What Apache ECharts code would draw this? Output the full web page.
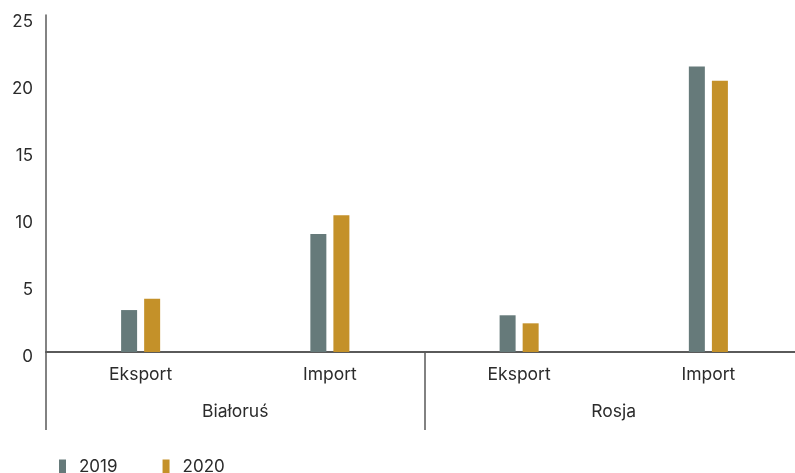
<!DOCTYPE html>
<html>
<head>
<meta charset="utf-8">
<script src="https://cdn.jsdelivr.net/npm/echarts@6/dist/echarts.min.js"></script>
<style>
  html, body { margin: 0; padding: 0; background: #fff; }
  #chart { width: 795px; height: 473px; }
</style>
</head>
<body>
<div id="chart"></div>
<script>
// Flow types within each country, and the countries they belong to
const flows = ['Eksport', 'Import', 'Eksport', 'Import'];
const countries = ['Białoruś', 'Rosja'];
const seriesNames = ['2019', '2020'];
const values2019 = [3.13, 8.8, 2.74, 21.3];
const values2020 = [3.98, 10.2, 2.14, 20.25];
const yTicks = [0, 5, 10, 15, 20, 25];

const FONT = 'Inter, "Noto Sans", sans-serif';
const TEXT = '#2b2b2b';
const AXIS = '#5a5a5a';

const chart = echarts.init(document.getElementById('chart'), null, { renderer: 'canvas' });

chart.setOption({
  animation: false,
  textStyle: { fontFamily: FONT },
  grid: {
    left: 46, top: 15, width: 757, height: 337,
    containLabel: false,
    outerBoundsMode: 'none'
  },
  legend: {
    left: 59,
    top: 458,
    padding: 0,
    itemWidth: 7,
    itemHeight: 14,
    itemGap: 45,
    icon: 'rect',
    textStyle: { fontFamily: FONT, fontSize: 17, color: TEXT, padding: [0, 0, 0, 8] },
    data: seriesNames
  },
  xAxis: [
    {
      type: 'category',
      data: flows,
      position: 'bottom',
      axisLine: { show: true, lineStyle: { color: AXIS, width: 2 } },
      axisTick: { show: false },
      axisLabel: { fontFamily: FONT, fontSize: 17.5, color: TEXT, margin: 14 }
    },
    {
      type: 'category',
      data: countries,
      position: 'bottom',
      axisLine: { show: false },
      axisTick: { show: true, length: 78, lineStyle: { color: AXIS, width: 1.5 } },
      axisLabel: { fontFamily: FONT, fontSize: 17.5, color: TEXT, margin: 51 }
    }
  ],
  yAxis: {
    type: 'value',
    min: 0,
    max: 25.15,
    interval: 5,
    axisLine: { show: true, lineStyle: { color: AXIS, width: 1.5 } },
    axisTick: { show: false },
    splitLine: { show: false },
    axisLabel: {
      fontFamily: FONT,
      fontSize: 17,
      color: TEXT,
      margin: 13,
      verticalAlign: 'top',
      lineHeight: 10,
      formatter: v => (yTicks.indexOf(v) >= 0 ? String(v) : '')
    }
  },
  series: [
    {
      name: seriesNames[0],
      type: 'bar',
      xAxisIndex: 0,
      data: values2019,
      barWidth: 16,
      barGap: '44%',
      itemStyle: { color: '#667a7a' }
    },
    {
      name: seriesNames[1],
      type: 'bar',
      xAxisIndex: 0,
      data: values2020,
      barWidth: 16,
      barGap: '44%',
      itemStyle: { color: '#c49129' }
    }
  ]
});
</script>
</body>
</html>
